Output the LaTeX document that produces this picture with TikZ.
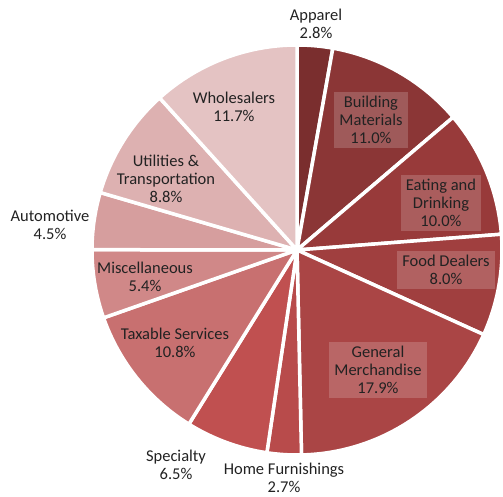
\documentclass[tikz,border=0pt]{standalone}
\usepackage{fontspec}
\setmainfont{Carlito}
\definecolor{cApparel}{HTML}{7A2E2E}
\definecolor{cBuilding}{HTML}{8B3636}
\definecolor{cEating}{HTML}{983A3A}
\definecolor{cFood}{HTML}{A03F3F}
\definecolor{cGeneral}{HTML}{AA4545}
\definecolor{cHome}{HTML}{B84B4B}
\definecolor{cSpecialty}{HTML}{C05050}
\definecolor{cTaxable}{HTML}{C87070}
\definecolor{cMisc}{HTML}{D08888}
\definecolor{cAuto}{HTML}{D69E9E}
\definecolor{cUtil}{HTML}{DDB1B1}
\definecolor{cWhole}{HTML}{E4C3C3}
\definecolor{ink}{HTML}{222222}
\begin{document}
\begin{tikzpicture}[x=1pt,y=1pt,
    font=\fontsize{16.5}{18}\selectfont, text=ink,
    slice/.style={draw=white,line width=3.5pt,line join=round},
    tag/.style={fill=white,fill opacity=0.18,text opacity=1,inner xsep=5pt,inner ysep=4pt,align=center},
    note/.style={align=center,inner sep=1pt}]
        \useasboundingbox (0,0) rectangle (503,497);
        \coordinate (c) at (297,247);
        \fill[cApparel,slice]   (c) -- ++(90:205)     arc[start angle=90,     end angle=79.93,   radius=205] -- cycle;
        \fill[cBuilding,slice]  (c) -- ++(79.93:205)  arc[start angle=79.93,  end angle=40.37,   radius=205] -- cycle;
        \fill[cEating,slice]    (c) -- ++(40.37:205)  arc[start angle=40.37,  end angle=4.41,    radius=205] -- cycle;
        \fill[cFood,slice]      (c) -- ++(4.41:205)   arc[start angle=4.41,   end angle=-24.37,  radius=205] -- cycle;
        \fill[cGeneral,slice]   (c) -- ++(-24.37:205) arc[start angle=-24.37, end angle=-88.74,  radius=205] -- cycle;
        \fill[cHome,slice]      (c) -- ++(-88.74:205) arc[start angle=-88.74, end angle=-98.45,  radius=205] -- cycle;
        \fill[cSpecialty,slice] (c) -- ++(-98.45:205) arc[start angle=-98.45, end angle=-121.83, radius=205] -- cycle;
        \fill[cTaxable,slice]   (c) -- ++(-121.83:205) arc[start angle=-121.83, end angle=-160.67, radius=205] -- cycle;
        \fill[cMisc,slice]      (c) -- ++(-160.67:205) arc[start angle=-160.67, end angle=-180.09, radius=205] -- cycle;
        \fill[cAuto,slice]      (c) -- ++(-180.09:205) arc[start angle=-180.09, end angle=-196.28, radius=205] -- cycle;
        \fill[cUtil,slice]      (c) -- ++(-196.28:205) arc[start angle=-196.28, end angle=-227.92, radius=205] -- cycle;
        \fill[cWhole,slice]     (c) -- ++(-227.92:205) arc[start angle=-227.92, end angle=-270,    radius=205] -- cycle;
        % labels
        \node[note] (apparel) at (316,473) {Apparel\\2.8\%};
        \node[tag] (building) at (371,377) {Building\\Materials\\11.0\%};
        \node[tag] (eating) at (441,294) {Eating and\\Drinking\\10.0\%};
        \node[tag] (food) at (446,227) {Food Dealers\\8.0\%};
        \node[tag] (general) at (378,127) {General\\Merchandise\\17.9\%};
        \node[note] (home) at (284,19) {Home Furnishings\\2.7\%};
        \node[note] (specialty) at (176,32) {Specialty\\6.5\%};
        \node[note] (taxable) at (175,154) {Taxable Services\\10.8\%};
        \node[note] (misc) at (145,220) {Miscellaneous\\5.4\%};
        \node[note] (auto) at (50,272) {Automotive\\4.5\%};
        \node[note] (util) at (166,318) {Utilities \&\\Transportation\\8.8\%};
        \node[note] (whole) at (234,390) {Wholesalers\\11.7\%};
    \end{tikzpicture}
\end{document}
